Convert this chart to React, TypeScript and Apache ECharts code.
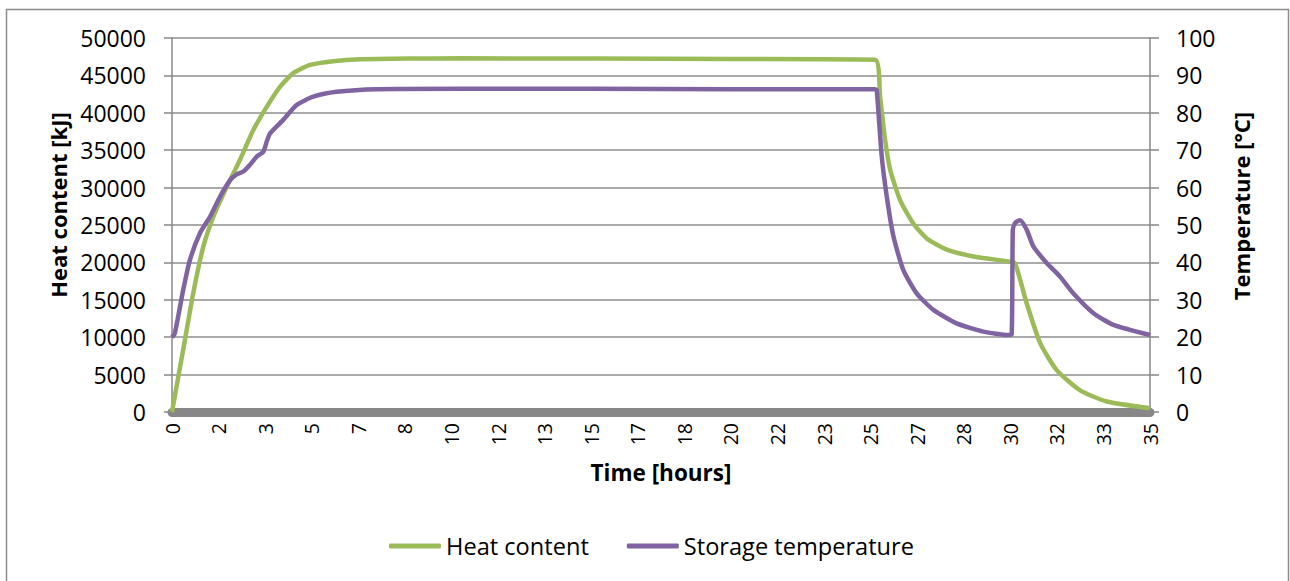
import React, { useEffect, useRef } from "react";
import * as echarts from "echarts";

// Heat content [kJ] vs time [hours]
const heatTime = [0, 0.2, 0.4, 0.76, 1.12, 1.48, 1.96, 2.43, 2.91, 3.39, 3.87, 4.34, 4.94, 5.77, 6.73, 8.5, 10.3, 15, 20, 25.16, 25.34, 25.52, 25.7, 26.06, 26.53, 27.01, 27.73, 28.68, 29.99, 30.17, 30.59, 31.07, 31.66, 32.5, 33.45, 35];
const heatValue = [0, 4200, 8300, 15900, 22100, 26100, 30100, 33700, 37700, 40800, 43500, 45300, 46400, 46900, 47150, 47250, 47280, 47250, 47200, 47100, 42150, 36400, 32400, 28300, 25200, 23200, 21700, 20800, 20100, 19900, 14500, 9200, 5600, 2900, 1400, 500];

// Storage temperature [°C] vs time [hours]
const tempTime = [0, 0.1, 0.4, 0.64, 1.0, 1.36, 1.72, 2.08, 2.3, 2.55, 2.8, 3.03, 3.27, 3.4, 3.51, 3.98, 4.46, 5.06, 5.89, 7.33, 10.3, 15, 20, 25.16, 25.22, 25.4, 25.58, 25.82, 26.17, 26.65, 27.25, 28.08, 29.04, 29.93, 30.05, 30.09, 30.17, 30.35, 30.59, 30.83, 31.31, 31.78, 32.26, 32.98, 33.69, 35];
const tempValue = [20, 21, 32.6, 40.6, 47.8, 52.2, 57.6, 62.0, 63.5, 64.3, 66.2, 68.3, 69.6, 72.5, 74.5, 78.1, 82.1, 84.3, 85.6, 86.3, 86.4, 86.4, 86.3, 86.3, 86.1, 68.3, 57.6, 46.9, 38.0, 31.7, 27.3, 23.7, 21.5, 20.6, 20.8, 48.7, 50.5, 51.3, 48.7, 44.2, 39.8, 36.2, 31.7, 26.4, 23.3, 20.6];

const seriesNames = ["Heat content", "Storage temperature"];
const seriesColors = ["#9BBB59", "#8064A2"];
const xMin = 0;
const xMax = 35;
const xLabelCount = 21; // intervals between x labels
const leftMax = 50000;
const leftStep = 5000;
const rightMax = 100;
const rightStep = 10;

const FONT = "'Open Sans', sans-serif";

export default function App() {
  const ref = useRef<HTMLDivElement>(null);
  useEffect(() => {
    if (!ref.current) return;
    const chart = echarts.init(ref.current, undefined, { renderer: "svg" });
    const heatData = heatTime.map((t, i) => [t, heatValue[i]]);
    const tempData = tempTime.map((t, i) => [t, tempValue[i]]);
    const grey = "#878787";
    chart.setOption({
      animation: false,
      backgroundColor: "#ffffff",
      textStyle: { fontFamily: FONT },
      grid: { left: 172, right: 140, top: 38, bottom: 169, containLabel: false },
      graphic: [
        {
          type: "rect",
          shape: { x: 6.5, y: 9.5, width: 1282, height: 600 },
          style: { fill: "none", stroke: "#8c8c8c", lineWidth: 1.5 },
          silent: true,
        },
      ],
      legend: {
        data: seriesNames,
        left: 384,
        top: 529,
        icon: "roundRect",
        itemWidth: 52,
        itemHeight: 5,
        itemGap: 38,
        textStyle: { fontFamily: FONT, fontSize: 23.6, color: "#000" },
      },
      xAxis: {
        type: "value",
        min: xMin,
        max: xMax,
        interval: (xMax - xMin) / xLabelCount,
        offset: 4,
        name: "Time [hours]",
        nameLocation: "middle",
        nameGap: 45,
        nameTextStyle: { fontFamily: FONT, fontSize: 22.5, fontWeight: "bold", color: "#000" },
        axisLine: { show: true, lineStyle: { color: grey, width: 9 } },
        axisTick: { show: false },
        splitLine: { show: false },
        axisLabel: {
          rotate: 90,
          margin: 7,
          fontSize: 19.5,
          color: "#000",
          fontFamily: FONT,
          formatter: (v: number) => String(Math.round(v)),
        },
      },
      yAxis: [
        {
          type: "value",
          min: 0,
          max: leftMax,
          interval: leftStep,
          position: "left",
          name: "Heat content [kJ]",
          nameLocation: "middle",
          nameRotate: 90,
          nameGap: 100,
          nameTextStyle: { fontFamily: FONT, fontSize: 22, fontWeight: "bold", color: "#000", padding: [0, 0, 0, 40] },
          axisLine: { show: true, lineStyle: { color: grey, width: 1.5 } },
          axisTick: { show: true, length: 8, lineStyle: { color: grey, width: 1.5 } },
          splitLine: { show: true, lineStyle: { color: "#8e8e8e", width: 1.5 } },
          axisLabel: { margin: 26, fontSize: 23, color: "#000", fontFamily: FONT, formatter: (v: number) => String(v) },
        },
        {
          type: "value",
          min: 0,
          max: rightMax,
          interval: rightStep,
          position: "right",
          name: "Temperature [°C]",
          nameLocation: "middle",
          nameRotate: 90,
          nameGap: 80,
          nameTextStyle: { fontFamily: FONT, fontSize: 22, fontWeight: "bold", color: "#000", padding: [0, 0, 0, 38] },
          axisLine: { show: true, lineStyle: { color: grey, width: 1.5 } },
          axisTick: { show: true, length: 9, lineStyle: { color: grey, width: 1.5 } },
          splitLine: { show: false },
          axisLabel: { margin: 26, fontSize: 23, color: "#000", fontFamily: FONT, formatter: (v: number) => String(v) },
        },
      ],
      series: [
        {
          name: seriesNames[0],
          type: "line",
          yAxisIndex: 0,
          data: heatData,
          showSymbol: false,
          smooth: 0.2,
          color: seriesColors[0],
          lineStyle: { width: 4.5, color: seriesColors[0] },
          z: 3,
        },
        {
          name: seriesNames[1],
          type: "line",
          yAxisIndex: 1,
          data: tempData,
          showSymbol: false,
          smooth: 0.2,
          color: seriesColors[1],
          lineStyle: { width: 4.5, color: seriesColors[1] },
          z: 4,
        },
      ],
    });
    return () => chart.dispose();
  }, []);
  return (
    <div
      ref={ref}
      style={{ position: "fixed", left: 0, top: 0, width: 1290, height: 581, background: "#fff" }}
    />
  );
}
